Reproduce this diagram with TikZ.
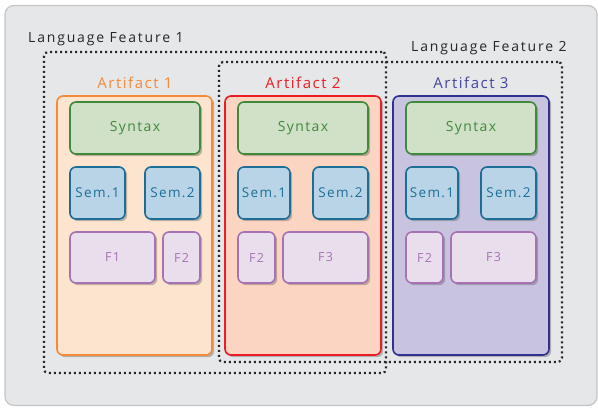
\documentclass[tikz,border=0pt]{standalone}
\usepackage{fontspec}
\setmainfont{Open Sans}
\newfontfamily\wide[LetterSpace=13]{Open Sans}
\newfontfamily\widemid[LetterSpace=10]{Open Sans}
\usetikzlibrary{shadows}
\definecolor{bgfill}{HTML}{E6E7E8}
\definecolor{bgdraw}{HTML}{C4C5C7}
\definecolor{orgdraw}{HTML}{F58A3A}
\definecolor{orgfill}{HTML}{FDE4CE}
\definecolor{reddraw}{HTML}{ED1C24}
\definecolor{redfill}{HTML}{FCD5C2}
\definecolor{navdraw}{HTML}{2E3192}
\definecolor{navfill}{HTML}{C8C4E0}
\definecolor{grndraw}{HTML}{3F8A3A}
\definecolor{grnfill}{HTML}{D0E1C8}
\definecolor{bludraw}{HTML}{1C6E96}
\definecolor{blufill}{HTML}{B8D4E6}
\definecolor{prpdraw}{HTML}{A672B4}
\definecolor{prpfill}{HTML}{E9DEEC}
\tikzset{
  shd/.style={drop shadow={shadow xshift=2.2pt,shadow yshift=-2.2pt,opacity=0.35,fill=black!70}},
  box/.style={rectangle,rounded corners=6pt,line width=1.6pt,inner sep=0pt,shd},
  artbox/.style={box,draw=#1draw,fill=#1fill},
  syn/.style={box,draw=grndraw,fill=grnfill,text=grndraw,font=\widemid\fontsize{14}{16}\selectfont},
  sem/.style={box,draw=bludraw,fill=blufill,text=bludraw,font=\widemid\fontsize{13.5}{16}\selectfont},
  feat/.style={box,draw=prpdraw,fill=prpfill,text=prpdraw,font=\widemid\fontsize{12.5}{14}\selectfont},
  artlabel/.style={font=\widemid\fontsize{15}{17}\selectfont,inner sep=0pt},
  lflabel/.style={font=\wide\fontsize{14}{16}\selectfont,inner sep=0pt,text=black!85},
  lfbox/.style={draw=black!85,line width=2.2pt,dash pattern=on 2pt off 3pt,rounded corners=4pt},
}
\begin{document}
\begin{tikzpicture}[x=1pt,y=-1pt]
\useasboundingbox (0,0) rectangle (598,408);
% background
\node[rectangle,rounded corners=9pt,draw=bgdraw,fill=bgfill,line width=1.2pt,minimum width=592pt,minimum height=400pt,inner sep=0pt] (bg) at (301,205.5) {};
% artifacts
\node[artbox=org,minimum width=155pt,minimum height=259pt] (a1) at (134.5,225.5) {};
\node[artbox=red,minimum width=156pt,minimum height=259pt] (a2) at (303,225.5) {};
\node[artbox=nav,minimum width=156pt,minimum height=259pt] (a3) at (471,225.5) {};
% language feature boxes
\node[lfbox,minimum width=342pt,minimum height=321pt,inner sep=0pt] (lf1) at (215,212.5) {};
\node[lfbox,minimum width=343pt,minimum height=300pt,inner sep=0pt] (lf2) at (390.5,212) {};
\node[lflabel,anchor=west] (lf1t) at (28,39) {Language Feature 1};
\node[lflabel,anchor=west] (lf2t) at (411,48) {Language Feature 2};
% artifact labels
\node[artlabel,text=orgdraw] (a1t) at (135,83) {Artifact 1};
\node[artlabel,text=reddraw] (a2t) at (303,83) {Artifact 2};
\node[artlabel,text=navdraw!90!white] (a3t) at (471,83) {Artifact 3};
% artifact 1 contents
\node[syn,minimum width=130pt,minimum height=52pt] (s1) at (135,128) {Syntax};
\node[sem,minimum width=55pt,minimum height=52pt] (s1a) at (97.5,193) {Sem.1};
\node[sem,minimum width=55pt,minimum height=52pt] (s1b) at (172.5,193) {Sem.2};
\node[feat,minimum width=85pt,minimum height=51pt] (f1a) at (112.5,257.5) {F1};
\node[feat,minimum width=37pt,minimum height=51pt] (f1b) at (181.5,257.5) {F2};
% artifact 2 contents
\node[syn,minimum width=130pt,minimum height=52pt] (s2) at (303,128) {Syntax};
\node[sem,minimum width=52pt,minimum height=52pt] (s2a) at (264,193) {Sem.1};
\node[sem,minimum width=55pt,minimum height=52pt] (s2b) at (340.5,193) {Sem.2};
\node[feat,minimum width=37pt,minimum height=51pt] (f2a) at (256.5,257.5) {F2};
\node[feat,minimum width=85pt,minimum height=51pt] (f2b) at (325.5,257.5) {F3};
% artifact 3 contents
\node[syn,minimum width=130pt,minimum height=52pt] (s3) at (471,128) {Syntax};
\node[sem,minimum width=52pt,minimum height=52pt] (s3a) at (432,193) {Sem.1};
\node[sem,minimum width=55pt,minimum height=52pt] (s3b) at (508.5,193) {Sem.2};
\node[feat,minimum width=37pt,minimum height=51pt] (f3a) at (424.5,257.5) {F2};
\node[feat,minimum width=85pt,minimum height=51pt] (f3b) at (493.5,257.5) {F3};
\end{tikzpicture}
\end{document}
